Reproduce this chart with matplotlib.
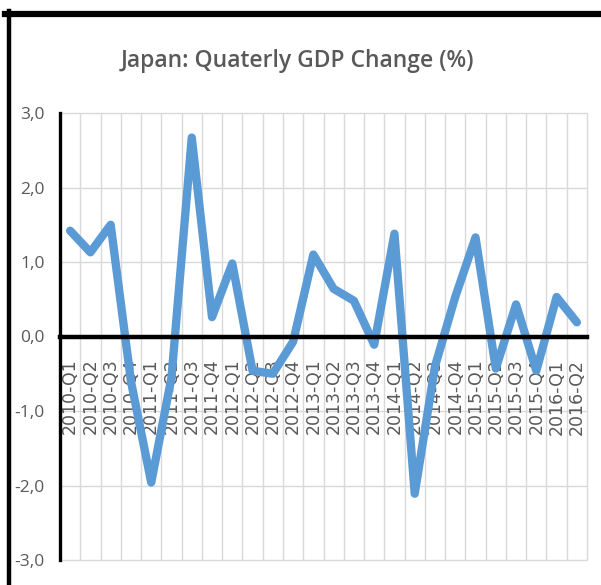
import matplotlib
matplotlib.use("Agg")
import matplotlib.pyplot as plt
from matplotlib.lines import Line2D

quarters = ["2010-Q1", "2010-Q2", "2010-Q3", "2010-Q4",
            "2011-Q1", "2011-Q2", "2011-Q3", "2011-Q4",
            "2012-Q1", "2012-Q2", "2012-Q3", "2012-Q4",
            "2013-Q1", "2013-Q2", "2013-Q3", "2013-Q4",
            "2014-Q1", "2014-Q2", "2014-Q3", "2014-Q4",
            "2015-Q1", "2015-Q2", "2015-Q3", "2015-Q4",
            "2016-Q1", "2016-Q2"]
gdp_change = [1.42, 1.13, 1.50, -0.60,
              -1.96, -0.55, 2.67, 0.26,
              0.98, -0.46, -0.50, -0.07,
              1.10, 0.64, 0.48, -0.11,
              1.38, -2.11, -0.40, 0.53,
              1.33, -0.43, 0.43, -0.46,
              0.53, 0.19]
y_ticks = [-3.0, -2.0, -1.0, 0.0, 1.0, 2.0, 3.0]
y_tick_labels = ["-3,0", "-2,0", "-1,0", "0,0", "1,0", "2,0", "3,0"]
title = "Japan: Quaterly GDP Change (%)"

W, H = 601, 585
fig = plt.figure(figsize=(W / 100, H / 100), dpi=100)
fig.patch.set_facecolor("white")

ax = fig.add_axes([60 / W, (H - 560) / H, 527 / W, 447 / H])
x = list(range(len(quarters)))
n = len(quarters)
ax.set_xlim(-0.5, n - 0.5)
ax.set_ylim(y_ticks[0], y_ticks[-1])

grid_c = "#D9D9D9"
ax.hlines(y_ticks, -0.5, n - 0.5, colors=grid_c, linewidth=1.0, zorder=1, clip_on=False)
ax.vlines([i - 0.5 for i in range(1, n + 1)], y_ticks[0], y_ticks[-1],
          colors=grid_c, linewidth=1.0, zorder=1, clip_on=False)

ax.plot(x, gdp_change, color="#5B9BD5", linewidth=6.0, solid_joinstyle="round",
        solid_capstyle="round", zorder=3)

for s in ["top", "right"]:
    ax.spines[s].set_visible(False)
ax.spines["bottom"].set_position(("data", 0))
ax.spines["bottom"].set_linewidth(3.2)
ax.spines["bottom"].set_color("black")
ax.spines["bottom"].set_zorder(5)
ax.spines["left"].set_linewidth(2.4)
ax.spines["left"].set_color("black")
ax.spines["left"].set_zorder(5)

ax.set_xticks(x)
ax.set_xticklabels(quarters, rotation=90, fontsize=12.5, color="#595959",
                   family="DejaVu Sans", va="top")
ax.tick_params(axis="x", length=0, pad=16)
ax.set_yticks(y_ticks)
ax.set_yticklabels(y_tick_labels, fontsize=12.5, color="#595959", family="Open Sans")
ax.tick_params(axis="y", length=0, pad=11)

fig.text(297 / W, 1 - 61 / H, title, ha="center", va="center", fontsize=16.5,
         color="#595959", family="Open Sans", fontweight="semibold")

fig.add_artist(Line2D([5 / W, 1.0], [1 - 13.5 / H, 1 - 13.5 / H], color="black",
                      linewidth=4.5, transform=fig.transFigure))
fig.add_artist(Line2D([8.5 / W, 8.5 / W], [0, 1 - 11 / H], color="black",
                      linewidth=3.2, transform=fig.transFigure))

fig.savefig("out.png", dpi=100, facecolor="white")
